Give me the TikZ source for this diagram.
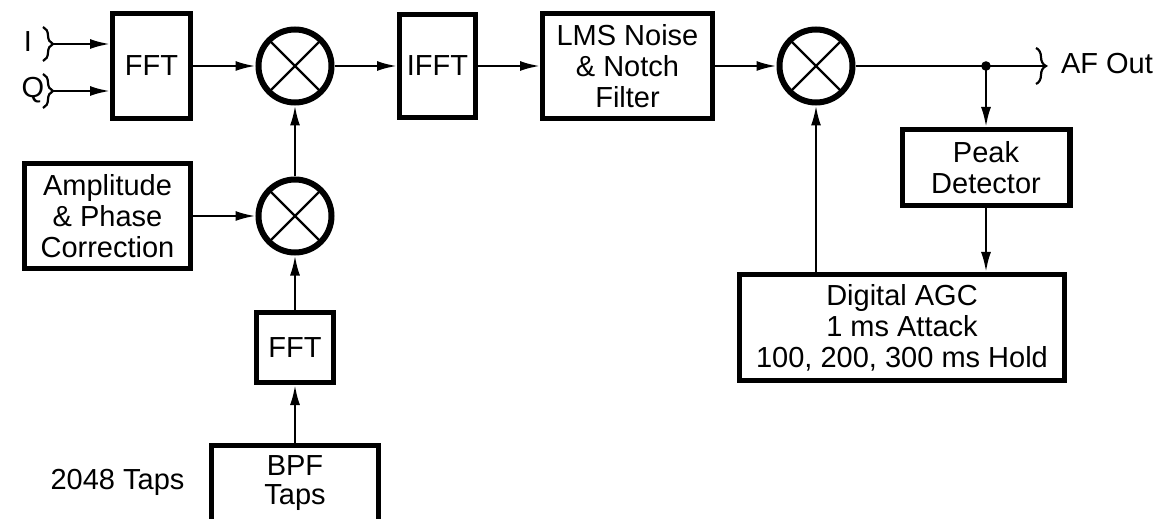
\documentclass[tikz,border=0pt]{standalone}
\usepackage{fontspec}
\setmainfont{Liberation Sans}
\usetikzlibrary{arrows.meta,decorations.pathreplacing}

\begin{document}
\begin{tikzpicture}[x=0.5pt, y=-0.5pt,
        font=\fontsize{14.5}{15.5}\selectfont,
        blk/.style={draw, line width=2.7pt, inner sep=0pt, align=center},
        mixer/.style={circle, draw, line width=3pt, minimum size=36.5pt, inner sep=0pt,
            path picture={\draw[line width=1.1pt]
                (path picture bounding box.north west) -- (path picture bounding box.south east)
                (path picture bounding box.north east) -- (path picture bounding box.south west);}},
        sig/.style={line width=1.2pt, -{Latex[length=10pt,width=5pt]}},
        wire/.style={line width=1.2pt},
        curly/.style={line width=1.1pt, decorate, decoration={brace, amplitude=5pt}}]
    \useasboundingbox (0,0) rectangle (1158,519);
    \clip (0,0) rectangle (1158,519);

    % signal path
    \node[blk, minimum width=38.8pt, minimum height=52.3pt] (fft1) at (151.5,66) {FFT};
    \node[mixer] (mix1) at (295,66) {};
    \node[blk, minimum width=37.8pt, minimum height=51.3pt] (ifft) at (437.5,66) {IFFT};
    \node[blk, minimum width=84.8pt, minimum height=52.3pt] (lms) at (627.5,66) {LMS Noise\\\& Notch\\Filter};
    \node[mixer] (mix2) at (816,66) {};

    % filter branch
    \node[blk, minimum width=82.8pt, minimum height=52.3pt] (amp) at (107.5,216) {Amplitude\\\& Phase\\Correction};
    \node[mixer] (mix3) at (295,216) {};
    \node[blk, minimum width=38.3pt, minimum height=34.8pt] (fft2) at (295,347.5) {FFT};
    \node[blk, minimum width=83.3pt, inner ysep=5pt, text depth=40pt, anchor=north] (bpf) at (295,443) {BPF\\[-1pt]Taps};
    \node (taps) at (117.5,482) {2048 Taps};

    % AGC loop
    \node[blk, minimum width=83.8pt, minimum height=37.8pt] (peak) at (986,167.5) {Peak\\Detector};
    \node[blk, minimum width=162.3pt, minimum height=52.8pt] (agc) at (902,327.5) {Digital AGC\\1 ms Attack\\100, 200, 300 ms Hold};

    % inputs and output
    \node (lblI) at (28,42) {I};
    \node (lblQ) at (33,90) {Q};
    \coordinate (iin) at (53,44);
    \coordinate (qin) at (53,91);
    \draw[curly] (43,27) -- (43,61);
    \draw[curly] (43,74) -- (43,108);
    \coordinate (afo) at (1046,66);
    \draw[curly] (1036,48) -- (1036,84);
    \node[anchor=west] (afout) at (1054,64) {AF Out};
    \coordinate (jn) at (peak.north |- mix2);

    \draw[sig] (iin) -- (iin -| fft1.west);
    \draw[sig] (qin) -- (qin -| fft1.west);
    \draw[sig] (fft1) -- (mix1);
    \draw[sig] (mix1) -- (ifft);
    \draw[sig] (ifft) -- (lms);
    \draw[sig] (lms) -- (mix2);
    \draw[wire] (mix2) -- (afo);
    \fill (jn) circle (2.4pt);
    \draw[sig] (jn) -- (peak);
    \draw[sig] (peak) -- (peak |- agc.north);
    \draw[sig] (agc.north -| mix2) -- (mix2);
    \draw[sig] (amp) -- (mix3);
    \draw[sig] (mix3) -- (mix1);
    \draw[sig] (fft2) -- (mix3);
    \draw[sig] (bpf) -- (fft2);
\end{tikzpicture}
\end{document}
